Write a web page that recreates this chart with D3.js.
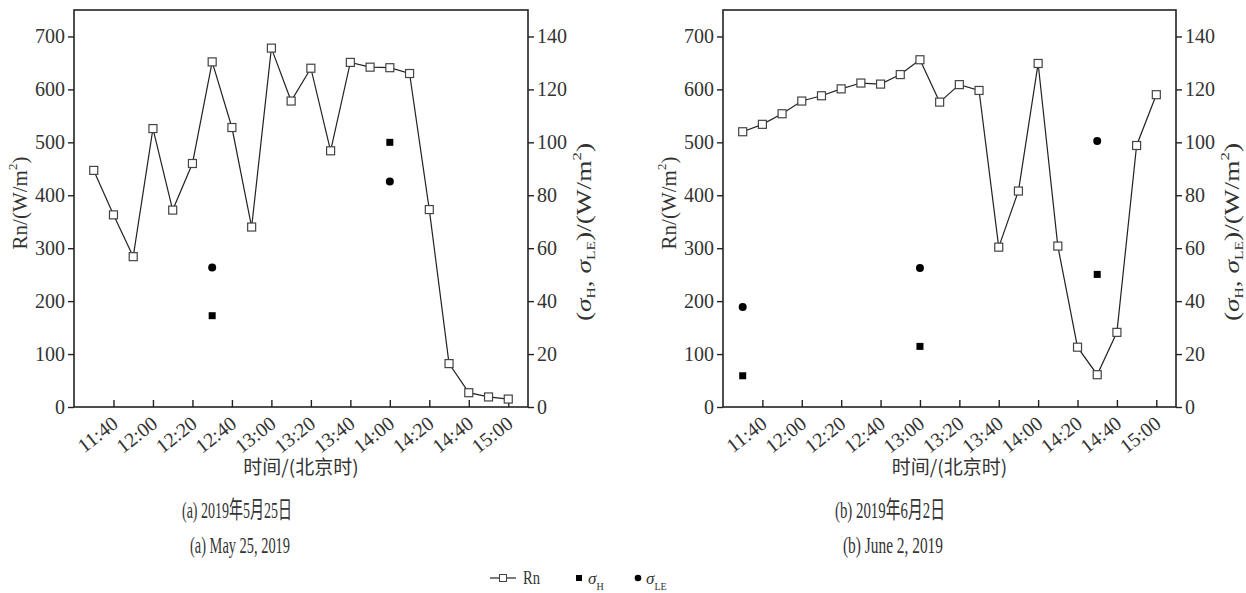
<!DOCTYPE html>
<html>
<head>
<meta charset="utf-8">
<script src="https://cdn.jsdelivr.net/npm/d3@7"></script>
<style>
  body { margin: 0; background: #fff; }
  svg { display: block; }
  text { fill: #333; }
</style>
</head>
<body>
<svg id="chart" width="1246" height="593"></svg>
<script>
// Rn every 10 minutes
const rnTimes = ["11:30","11:40","11:50","12:00","12:10","12:20","12:30","12:40","12:50","13:00","13:10",
                 "13:20","13:30","13:40","13:50","14:00","14:10","14:20","14:30","14:40","14:50","15:00"];
const rnMay25 = [447,363,284,526,372,460,652,528,340,678,578,640,484,651,642,641,630,373,82,27,19,15];
const rnJun2  = [520,534,554,578,588,601,612,610,628,656,576,609,598,302,408,649,304,113,61,141,494,590];

// sigma values (right axis)
const sigmaTimesMay25 = ["12:30","14:00"];
const sigmaHMay25  = [34.5,100];
const sigmaLEMay25 = [52.7,85.2];
const sigmaTimesJun2 = ["11:30","13:00","14:30"];
const sigmaHJun2  = [11.8,22.9,50.1];
const sigmaLEJun2 = [37.8,52.5,100.5];

const xTickLabels = ["11:40","12:00","12:20","12:40","13:00","13:20","13:40","14:00","14:20","14:40","15:00"];
const rnTicks = [0,100,200,300,400,500,600,700];
const sigmaTicks = [0,20,40,60,80,100,120,140];

const parseTime = d3.timeParse("%H:%M");
const svg = d3.select("#chart");
const serif = "Liberation Serif, Times New Roman, serif";
const cjk = "Noto Sans CJK SC, sans-serif";

const plotTop = 10, plotBottom = 407;

const panels = [
  { left: 74, right: 528, rn: rnMay25, sT: sigmaTimesMay25, sH: sigmaHMay25, sLE: sigmaLEMay25,
    capCn: "(a) 2019年5月25日", capEn: "(a) May 25, 2019", capX: 237 },
  { left: 723, right: 1176, rn: rnJun2, sT: sigmaTimesJun2, sH: sigmaHJun2, sLE: sigmaLEJun2,
    capCn: "(b) 2019年6月2日", capEn: "(b) June 2, 2019", capX: 890 }
];

panels.forEach(p => {
  const x = d3.scaleTime().domain([parseTime("11:20"), parseTime("15:10")]).range([p.left, p.right]);
  const y = d3.scaleLinear().domain([0, 750]).range([plotBottom, plotTop]);
  const y2 = d3.scaleLinear().domain([0, 150]).range([plotBottom, plotTop]);

  const g = svg.append("g");

  // frame
  g.append("rect")
    .attr("x", p.left).attr("y", plotTop)
    .attr("width", p.right - p.left).attr("height", plotBottom - plotTop)
    .attr("fill", "none").attr("stroke", "#222").attr("stroke-width", 1.6);

  // x axis, inward ticks
  const xAxis = g.append("g")
    .attr("transform", `translate(0,${plotBottom})`)
    .call(d3.axisBottom(x).tickValues(xTickLabels.map(parseTime)).tickSizeInner(-7).tickSizeOuter(0).tickFormat(""));
  xAxis.select(".domain").remove();
  xAxis.selectAll(".tick line").attr("stroke", "#222").attr("stroke-width", 1.4);

  g.selectAll(".xlab")
    .data(xTickLabels)
    .enter().append("text")
    .attr("transform", d => `translate(${x(parseTime(d)) + 6},${plotBottom + 19}) rotate(-38)`)
    .attr("text-anchor", "end")
    .attr("font-family", serif).attr("font-size", 20)
    .text(d => d);

  // left axis
  const yAxis = g.append("g")
    .attr("transform", `translate(${p.left},0)`)
    .call(d3.axisLeft(y).tickValues(rnTicks).tickSize(6).tickSizeOuter(0));
  yAxis.select(".domain").remove();
  yAxis.selectAll(".tick line").attr("stroke", "#222").attr("stroke-width", 1.4);
  yAxis.selectAll(".tick text").attr("font-family", serif).attr("font-size", 20).attr("fill", "#333");

  // right axis
  const y2Axis = g.append("g")
    .attr("transform", `translate(${p.right},0)`)
    .call(d3.axisRight(y2).tickValues(sigmaTicks).tickSize(6).tickSizeOuter(0));
  y2Axis.select(".domain").remove();
  y2Axis.selectAll(".tick line").attr("stroke", "#222").attr("stroke-width", 1.4);
  y2Axis.selectAll(".tick text").attr("font-family", serif).attr("font-size", 20).attr("fill", "#333");

  // left title
  const lt = g.append("text")
    .attr("transform", `translate(${p.left - 54},203) rotate(-90)`)
    .attr("text-anchor", "middle").attr("dominant-baseline", "central")
    .attr("font-family", serif).attr("font-size", 21);
  lt.append("tspan").text("Rn/(W/m");
  lt.append("tspan").attr("baseline-shift", "super").attr("font-size", 13).text("2");
  lt.append("tspan").text(")");

  // right title
  const rt = g.append("text")
    .attr("transform", `translate(${p.right + 56},232) rotate(-90)`)
    .attr("text-anchor", "middle").attr("dominant-baseline", "central")
    .attr("font-family", serif).attr("font-size", 21)
    .attr("textLength", 178).attr("lengthAdjust", "spacingAndGlyphs");
  rt.append("tspan").text("(");
  rt.append("tspan").attr("font-style", "italic").text("σ");
  rt.append("tspan").attr("baseline-shift", "sub").attr("font-size", 12).text("H");
  rt.append("tspan").text(", ");
  rt.append("tspan").attr("font-style", "italic").text("σ");
  rt.append("tspan").attr("baseline-shift", "sub").attr("font-size", 12).text("LE");
  rt.append("tspan").text(")/(W/m");
  rt.append("tspan").attr("baseline-shift", "super").attr("font-size", 13).text("2");
  rt.append("tspan").text(")");

  // x title
  g.append("text")
    .attr("x", (p.left + p.right) / 2).attr("y", 474)
    .attr("text-anchor", "middle")
    .attr("font-family", cjk).attr("font-size", 19).attr("fill", "#444")
    .text("时间/(北京时)");

  // Rn line
  const rnData = rnTimes.map((t, i) => ({ t: parseTime(t), v: p.rn[i] }));
  g.append("path")
    .datum(rnData)
    .attr("fill", "none").attr("stroke", "#222").attr("stroke-width", 1.2)
    .attr("d", d3.line().x(d => x(d.t)).y(d => y(d.v)));
  g.selectAll(".rn")
    .data(rnData)
    .enter().append("rect")
    .attr("x", d => x(d.t) - 4).attr("y", d => y(d.v) - 4)
    .attr("width", 8).attr("height", 8)
    .attr("fill", "#fff").attr("stroke", "#444").attr("stroke-width", 1.2);

  // sigma H squares
  g.selectAll(".sh")
    .data(p.sT.map((t, i) => ({ t: parseTime(t), v: p.sH[i] })))
    .enter().append("rect")
    .attr("x", d => x(d.t) - 3.5).attr("y", d => y2(d.v) - 3.5)
    .attr("width", 7).attr("height", 7).attr("fill", "#000");

  // sigma LE circles
  g.selectAll(".sle")
    .data(p.sT.map((t, i) => ({ t: parseTime(t), v: p.sLE[i] })))
    .enter().append("circle")
    .attr("cx", d => x(d.t)).attr("cy", d => y2(d.v))
    .attr("r", 4).attr("fill", "#000");

  // captions
  g.append("text")
    .attr("x", p.capX).attr("y", 518).attr("text-anchor", "middle")
    .attr("font-family", serif + ", Noto Sans CJK SC").attr("font-size", 24).attr("fill", "#222")
    .attr("textLength", 110).attr("lengthAdjust", "spacingAndGlyphs")
    .text(p.capCn);
  g.append("text")
    .attr("x", p.capX + 3).attr("y", 553).attr("text-anchor", "middle")
    .attr("font-family", serif).attr("font-size", 23).attr("fill", "#222")
    .attr("textLength", 100).attr("lengthAdjust", "spacingAndGlyphs")
    .text(p.capEn);
});

// legend
const leg = svg.append("g");
leg.append("line").attr("x1", 490).attr("x2", 516).attr("y1", 578).attr("y2", 578).attr("stroke", "#222").attr("stroke-width", 1.2);
leg.append("rect").attr("x", 499.5).attr("y", 574.5).attr("width", 7).attr("height", 7).attr("fill", "#fff").attr("stroke", "#444");
leg.append("text").attr("x", 523).attr("y", 584).attr("font-family", serif).attr("font-size", 18)
  .attr("textLength", 17).attr("lengthAdjust", "spacingAndGlyphs").text("Rn");
leg.append("rect").attr("x", 576).attr("y", 575).attr("width", 6).attr("height", 6).attr("fill", "#000");
const lh = leg.append("text").attr("x", 588).attr("y", 584).attr("font-family", serif).attr("font-size", 17);
lh.append("tspan").attr("font-style", "italic").text("σ");
lh.append("tspan").attr("baseline-shift", "sub").attr("font-size", 10).text("H");
leg.append("circle").attr("cx", 638).attr("cy", 578).attr("r", 3.3).attr("fill", "#000");
const ll = leg.append("text").attr("x", 646).attr("y", 584).attr("font-family", serif).attr("font-size", 17);
ll.append("tspan").attr("font-style", "italic").text("σ");
ll.append("tspan").attr("baseline-shift", "sub").attr("font-size", 10).text("LE");
</script>
</body>
</html>
